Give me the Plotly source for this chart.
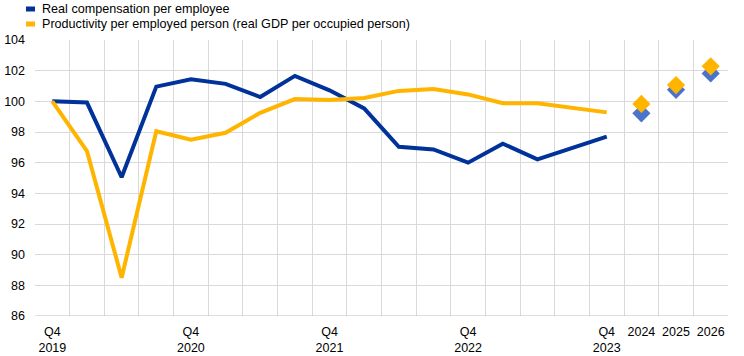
import plotly.graph_objects as go

quarters = ["Q4 2019", "Q1 2020", "Q2 2020", "Q3 2020", "Q4 2020", "Q1 2021", "Q2 2021",
            "Q3 2021", "Q4 2021", "Q1 2022", "Q2 2022", "Q3 2022", "Q4 2022", "Q1 2023",
            "Q2 2023", "Q3 2023", "Q4 2023"]
years = ["2024", "2025", "2026"]

comp_hist = [100.0, 99.92, 95.05, 100.96, 101.44, 101.14, 100.28, 101.66, 100.72, 99.54,
             97.04, 96.86, 96.0, 97.24, 96.22, 96.95, 97.7]
prod_hist = [100.0, 96.75, 88.5, 98.05, 97.5, 97.95, 99.25, 100.15, 100.08, 100.22,
             100.68, 100.8, 100.45, 99.88, 99.88, 99.55, 99.28]
comp_proj = [99.22, 100.75, 101.82]
prod_proj = [99.83, 101.06, 102.28]

series_names = ["Real compensation per employee",
                "Productivity per employed person (real GDP per occupied person)"]

tick_labels = ["Q4<br>2019", "Q4<br>2020", "Q4<br>2021", "Q4<br>2022", "Q4<br>2023",
               "2024", "2025", "2026"]
tick_idx = [0, 4, 8, 12, 16, 17, 18, 19]

BLUE = "#003299"
BLUE_LIGHT = "#4A74CC"
YELLOW = "#FFB400"

xq = list(range(len(quarters)))
xy = [len(quarters) + i for i in range(len(years))]

fig = go.Figure()
fig.add_trace(go.Scatter(x=xq, y=comp_hist, mode="lines", line=dict(color=BLUE, width=4),
                         name=series_names[0], showlegend=False, hoverinfo="skip"))
fig.add_trace(go.Scatter(x=xq, y=prod_hist, mode="lines", line=dict(color=YELLOW, width=4),
                         name=series_names[1], showlegend=False, hoverinfo="skip"))
fig.add_trace(go.Scatter(x=xy, y=comp_proj, mode="markers",
                         marker=dict(symbol="diamond", size=14, color=BLUE_LIGHT),
                         name=series_names[0], showlegend=False))
fig.add_trace(go.Scatter(x=xy, y=prod_proj, mode="markers",
                         marker=dict(symbol="diamond", size=14, color=YELLOW),
                         name=series_names[1], showlegend=False))

W, H = 744, 356
L, R, T, B = 35, 16, 40, 40
pw, ph = W - L - R, H - T - B


def px_x(X):
    return (X - L) / pw


def px_y(Y):
    return (H - B - Y) / ph


legend_rows = [(series_names[0], BLUE, 9), (series_names[1], YELLOW, 24)]
for name, col, Y in legend_rows:
    fig.add_shape(type="rect", xref="paper", yref="paper",
                  x0=px_x(26), x1=px_x(35), y0=px_y(Y + 2.5), y1=px_y(Y - 2.5),
                  fillcolor=col, line=dict(width=0))
    fig.add_annotation(text=name, xref="paper", yref="paper", x=px_x(40), y=px_y(Y),
                       xanchor="left", yanchor="middle", showarrow=False,
                       font=dict(size=12.6, color="#000000"))

fig.update_layout(
    width=W, height=H,
    margin=dict(l=L, r=R, t=T, b=B, autoexpand=False),
    plot_bgcolor="white", paper_bgcolor="white",
    font=dict(family="Liberation Sans, Arial, sans-serif", size=12, color="#000000"),
    showlegend=False,
    xaxis=dict(range=[-0.5, 19.5], tickmode="array", tickvals=tick_idx, ticktext=tick_labels,
               tickangle=0, showgrid=False, zeroline=False, ticks="", showline=False,
               tickfont=dict(size=12.5), ticklabelstandoff=6,
               minor=dict(tickmode="array", tickvals=[k + 0.5 for k in range(-1, 20)],
                          showgrid=True, gridcolor="#D9D9D9", gridwidth=1, ticks="")),
    yaxis=dict(range=[86, 104], dtick=2, showgrid=True, gridcolor="#D9D9D9", gridwidth=1,
               zeroline=False, ticks="", showline=False, tickfont=dict(size=12.5),
               ticklabelstandoff=9),
)
fig.add_shape(type="line", xref="paper", yref="y", x0=0, x1=1, y0=86, y1=86,
              line=dict(color="#BFBFBF", width=1))

fig.write_html("out.html", config={"displayModeBar": False},
               post_script="document.body.style.margin='0';")
